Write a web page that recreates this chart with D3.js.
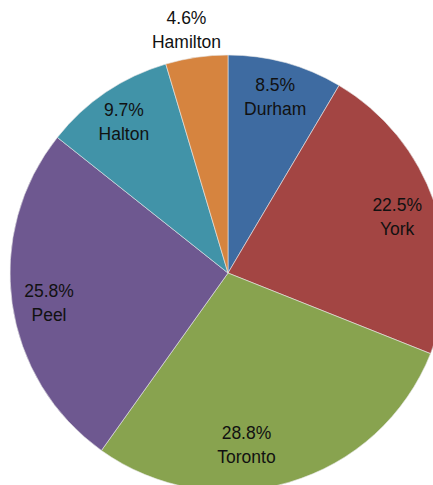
<!DOCTYPE html>
<html><head><meta charset="utf-8">
<script src="https://cdn.jsdelivr.net/npm/d3@7"></script>
<style>html,body{margin:0;padding:0;background:#fff;overflow:hidden}</style>
</head><body>
<svg id="chart" width="433" height="485"></svg>
<script>
const categories = ["Durham", "York", "Toronto", "Peel", "Halton", "Hamilton"];
const values = [8.5, 22.5, 28.8, 25.8, 9.7, 4.6];
const colors = ["#3E6BA1", "#A34543", "#88A34F", "#6E5890", "#4193A8", "#D6843F"];

const svg = d3.select("#chart");
const cx = 228, cy = 273, R = 218;
const g = svg.append("g").attr("transform", `translate(${cx},${cy})`);

const pie = d3.pie().sort(null).value(d => d.v);
const data = categories.map((c, i) => ({name: c, v: values[i], color: colors[i]}));
const arcs = pie(data);
const arc = d3.arc().innerRadius(0).outerRadius(R);

g.selectAll("path").data(arcs).enter().append("path")
  .attr("d", arc)
  .attr("fill", d => d.data.color)
  .attr("stroke", "#e8e8e8")
  .attr("stroke-width", 0.6);

// label placement tweaks (best-fit style)
const nudge = {Toronto: [-32, 0], Peel: [-2, 4], Halton: [-4, -4], Durham: [0, -5], Hamilton: [-6, 0], York: [0, 1]};
arcs.forEach(a => {
  const mid = (a.startAngle + a.endAngle) / 2;
  const lr = a.data.v < 5 ? R * 1.13 : R * 0.82;
  let x = Math.sin(mid) * lr, y = -Math.cos(mid) * lr;
  const n = nudge[a.data.name] || [0, 0];
  x += n[0]; y += n[1];
  const t = g.append("text")
    .attr("text-anchor", "middle")
    .attr("font-family", "Liberation Sans, Arial, sans-serif")
    .attr("font-size", 17.5)
    .attr("fill", "#111");
  t.append("tspan").attr("x", x).attr("y", y - 5).text(d3.format(".1f")(a.data.v) + "%");
  t.append("tspan").attr("x", x).attr("y", y + 19).text(a.data.name);
});
</script>
</body></html>
